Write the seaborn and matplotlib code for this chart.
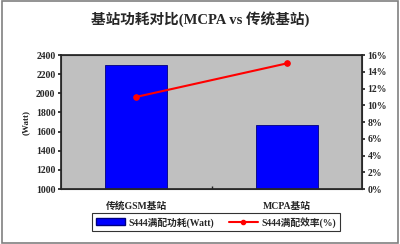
import matplotlib
matplotlib.use("Agg")
import matplotlib.pyplot as plt
import seaborn as sns
import pandas as pd
from matplotlib.patches import Rectangle
from matplotlib.lines import Line2D
from matplotlib.ticker import FuncFormatter, FixedLocator

categories = ["传统GSM基站", "MCPA基站"]
power = [2300, 1670]
efficiency = [11, 15]
title = "基站功耗对比(MCPA vs 传统基站)"
bar_label = "S444满配功耗(Watt)"
line_label = "S444满配效率(%)"

sns.set_theme(style="white")
plt.rcParams['font.family'] = ['Liberation Serif', 'Noto Sans CJK SC', 'DejaVu Sans']

df = pd.DataFrame({"cat": categories, "power": power, "eff": efficiency})

fig = plt.figure(figsize=(4.0, 2.44), dpi=100)
fig.patch.set_facecolor("white")
fig.add_artist(Rectangle((0.004, 0.006), 0.992, 0.988, transform=fig.transFigure,
                         fill=False, edgecolor="#808080", linewidth=1.2))
ax = fig.add_axes([0.1525, 0.2254, 0.7525, 0.549])
ax.set_facecolor("#c0c0c0")
sns.barplot(data=df, x="cat", y="power", ax=ax, color="#0000ff", saturation=1,
            width=0.41, edgecolor="#000080", linewidth=0.6)
ax.set_ylim(1000, 2400)
ax.set_yticks(range(1000, 2401, 200))
ax.set_xlim(-0.5, 1.5)
ax.set_xlabel("")
ax.set_ylabel("(Watt)", fontsize=6.5, fontweight="bold", labelpad=4)
ax.tick_params(axis="both", labelsize=7, length=2, pad=2)
ax.tick_params(axis="x", pad=9, length=0)
ax.xaxis.set_minor_locator(FixedLocator([0.5]))
ax.tick_params(axis="x", which="minor", length=2, direction="in", bottom=True)
for t in ax.get_xticklabels():
    t.set_fontweight("bold")
for t in ax.get_yticklabels():
    t.set_fontweight("bold")
for s in ax.spines.values():
    s.set_color("#404040")
    s.set_linewidth(0.8)

ax2 = ax.twinx()
sns.lineplot(x=[0, 1], y=efficiency, ax=ax2, color="#ff0000", marker="o",
             markersize=4, linewidth=1.5, markeredgecolor="#ff0000")
ax2.set_ylim(0, 16)
ax2.set_yticks(range(0, 17, 2))
ax2.yaxis.set_major_formatter(FuncFormatter(lambda v, p: f"{int(v)}%"))
ax2.tick_params(axis="y", labelsize=7, length=2, pad=2)
for t in ax2.get_yticklabels():
    t.set_fontweight("bold")
ax2.set_xlim(-0.5, 1.5)
ax2.set_ylabel("")

fig.suptitle(title, y=0.955, fontsize=10.5, fontweight="bold")

handles = [Rectangle((0, 0), 1, 1, facecolor="#0000ff", edgecolor="#000080"),
           Line2D([0], [0], color="#ff0000", marker="o", markersize=3, linewidth=1.5)]
leg = fig.legend(handles, [bar_label, line_label], loc="center", bbox_to_anchor=(0.54, 0.09),
                 ncol=2, fontsize=7, frameon=True, fancybox=False, edgecolor="black",
                 handlelength=3, columnspacing=1.5, borderpad=0.4, handletextpad=0.4)
leg.get_frame().set_linewidth(0.8)
for t in leg.get_texts():
    t.set_fontweight("bold")

fig.savefig("out.png", dpi=100)
